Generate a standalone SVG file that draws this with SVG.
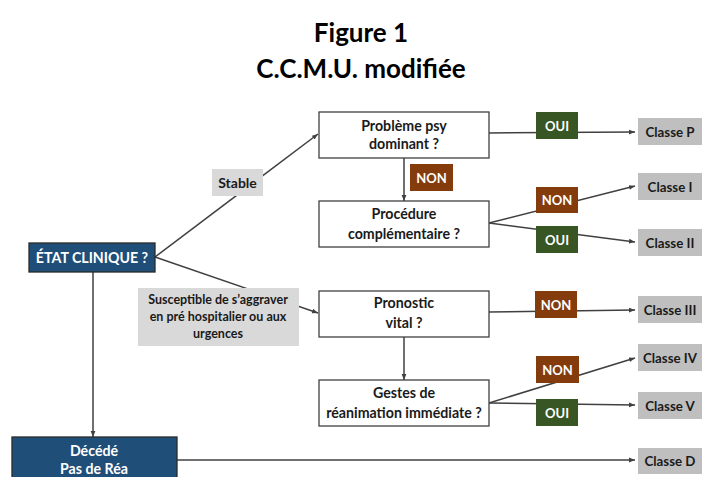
<svg xmlns="http://www.w3.org/2000/svg" width="703" height="477" viewBox="0 0 703 477">
<defs>
<marker id="arr" viewBox="0 0 10 10" refX="10" refY="5" markerWidth="6" markerHeight="6" markerUnits="userSpaceOnUse" orient="auto">
<path d="M0,1 L10,5 L0,9 z" fill="#404040"/>
</marker>
<style>
text{font-family:Lato,"Open Sans","Liberation Sans",sans-serif;font-weight:bold;text-anchor:middle}
.title{font-size:26px;fill:#000}
.q rect{fill:#fff;stroke:#404040;stroke-width:1.3}
.q text{font-size:14.2px;fill:#1a1a1a}
.blue rect{fill:#1f4e79;stroke:#2a2a2a;stroke-width:1.3}
.blue text{font-size:14.2px;fill:#fff}
.cls rect{fill:#bfbfbf}
.cls text{font-size:13.3px;fill:#1a1a1a}
.lbl rect{fill:#d9d9d9}
.lbl text{font-size:12.5px;fill:#1a1a1a}
.lbl .big{font-size:14px}
.non rect{fill:#843c0c}
.oui rect{fill:#375623}
.non text,.oui text{font-size:13px;fill:#fff}
.c line{stroke:#404040;stroke-width:1.5;fill:none}
</style>
</defs>
<rect width="703" height="477" fill="#fff"/>
<text class="title" x="361" y="42">Figure 1</text>
<text class="title" x="361" y="78">C.C.M.U. modifiée</text>

<g id="connectors" class="c">
<line x1="155" y1="257" x2="318" y2="134" marker-end="url(#arr)"/>
<line x1="155" y1="257" x2="318" y2="313" marker-end="url(#arr)"/>
<line x1="93" y1="272" x2="93" y2="437" marker-end="url(#arr)"/>
<line x1="489" y1="133" x2="635" y2="132" marker-end="url(#arr)"/>
<line x1="404" y1="158" x2="404" y2="201" marker-end="url(#arr)"/>
<line x1="489" y1="223" x2="635" y2="186" marker-end="url(#arr)"/>
<line x1="489" y1="223" x2="635" y2="242" marker-end="url(#arr)"/>
<line x1="489" y1="312" x2="635" y2="310" marker-end="url(#arr)"/>
<line x1="404" y1="337" x2="404" y2="380" marker-end="url(#arr)"/>
<line x1="489" y1="403" x2="635" y2="358" marker-end="url(#arr)"/>
<line x1="489" y1="403" x2="635" y2="405" marker-end="url(#arr)"/>
<line x1="177" y1="460" x2="635" y2="460" marker-end="url(#arr)"/>
</g>

<g id="etat" class="blue"><rect x="29" y="243" width="126" height="29"/><text x="92" y="263">ÉTAT CLINIQUE ?</text></g>
<g id="decede" class="blue"><rect x="12" y="437" width="165" height="45"/><text x="94" y="456">Décédé</text><text x="94" y="474">Pas de Réa</text></g>

<g id="lbl-stable" class="lbl"><rect x="212" y="169" width="51" height="27"/><text class="big" x="237.5" y="187.5">Stable</text></g>
<g id="lbl-susceptible" class="lbl"><rect x="138" y="288" width="161" height="58"/><text x="218" y="304">Susceptible de s’aggraver</text><text x="218" y="321">en pré hospitalier ou aux</text><text x="218" y="338">urgences</text></g>

<g id="q-psy" class="q"><rect x="319" y="112" width="170" height="46"/><text x="404" y="131">Problème psy</text><text x="404" y="149">dominant ?</text></g>
<g id="q-proc" class="q"><rect x="319" y="201" width="170" height="46"/><text x="404" y="219">Procédure</text><text x="404" y="238.5">complémentaire ?</text></g>
<g id="q-prono" class="q"><rect x="319" y="291" width="170" height="46"/><text x="404" y="308">Pronostic</text><text x="404" y="328">vital ?</text></g>
<g id="q-gestes" class="q"><rect x="319" y="380" width="170" height="46"/><text x="404" y="398">Gestes de</text><text x="404" y="418">réanimation immédiate ?</text></g>

<g id="oui-p" class="oui"><rect x="536" y="112" width="42" height="27"/><text x="557" y="130.5">OUI</text></g>
<g id="non-psy" class="non"><rect x="410" y="164" width="43" height="27"/><text x="431.5" y="182.5">NON</text></g>
<g id="non-i" class="non"><rect x="536" y="187" width="42" height="26"/><text x="557" y="205">NON</text></g>
<g id="oui-ii" class="oui"><rect x="536" y="226" width="42" height="27"/><text x="557" y="244.5">OUI</text></g>
<g id="non-iii" class="non"><rect x="535" y="291" width="42" height="27"/><text x="556" y="309.5">NON</text></g>
<g id="non-iv" class="non"><rect x="536" y="356" width="43" height="27"/><text x="557.5" y="374.5">NON</text></g>
<g id="oui-v" class="oui"><rect x="536" y="399" width="42" height="27"/><text x="557" y="417.5">OUI</text></g>

<g id="classe-p" class="cls"><rect x="638" y="118" width="64" height="27"/><text x="670" y="136.5">Classe P</text></g>
<g id="classe-i" class="cls"><rect x="638" y="173" width="64" height="27"/><text x="670" y="191.5">Classe I</text></g>
<g id="classe-ii" class="cls"><rect x="638" y="229" width="64" height="27"/><text x="670" y="247.5">Classe II</text></g>
<g id="classe-iii" class="cls"><rect x="638" y="296" width="64" height="27"/><text x="670" y="314.5">Classe III</text></g>
<g id="classe-iv" class="cls"><rect x="638" y="344" width="64" height="27"/><text x="670" y="362.5">Classe IV</text></g>
<g id="classe-v" class="cls"><rect x="638" y="392" width="64" height="27"/><text x="670" y="410.5">Classe V</text></g>
<g id="classe-d" class="cls"><rect x="638" y="448" width="64" height="26"/><text x="670" y="466">Classe D</text></g>
</svg>
